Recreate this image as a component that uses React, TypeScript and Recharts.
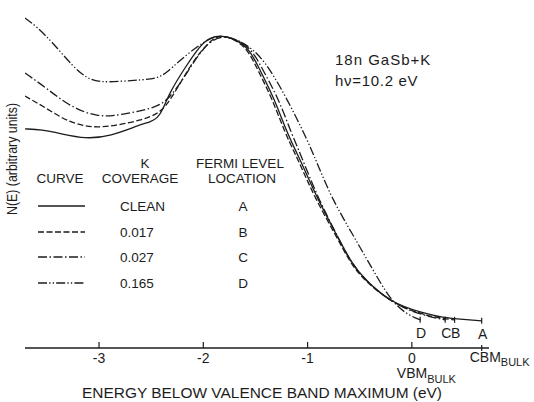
import React from 'react';
import { LineChart, Line, XAxis, YAxis, Customized } from 'recharts';

// Energy below the valence band maximum (eV) and N(E) (arbitrary units) for each curve
const cleanE = [-3.71, -3.55, -3.37, -3.13, -2.89, -2.61, -2.5, -2.44, -2.39, -2.32, -2.19, -2.03, -1.94, -1.82, -1.68, -1.55, -1.45, -1.32, -1.2, -1.1, -1.04, -0.9, -0.71, -0.58, -0.45, -0.19, 0.08, 0.3, 0.5, 0.67];
const cleanN = [65.4, 65.2, 64.0, 62.4, 63.2, 66.6, 67.6, 68.6, 71.0, 76.4, 83.0, 90.4, 92.6, 93.4, 92.0, 89.0, 82.5, 74.5, 64.5, 58.0, 54.0, 44.2, 33.1, 25.4, 20.3, 13.4, 10.7, 9.0, 8.5, 8.1];

const k017E = [-3.71, -3.5, -3.3, -3.07, -2.85, -2.6, -2.44, -2.35, -2.24, -2.12, -2.0, -1.9, -1.82, -1.69, -1.57, -1.47, -1.34, -1.22, -1.12, -1.06, -0.92, -0.72, -0.59, -0.46, -0.19, 0.08, 0.25, 0.41];
const k017N = [75.2, 71.5, 67.5, 65.7, 66.3, 68.0, 69.8, 72.5, 78.0, 84.5, 89.5, 92.5, 93.4, 92.0, 89.0, 82.5, 74.5, 64.5, 58.0, 54.0, 44.2, 33.1, 25.4, 20.3, 13.4, 10.2, 9.0, 8.4];

const k027E = [-3.71, -3.5, -3.3, -3.02, -2.75, -2.44, -2.32, -2.2, -2.08, -1.96, -1.82, -1.67, -1.53, -1.42, -1.28, -1.16, -1.07, -1.02, -0.89, -0.71, -0.58, -0.45, -0.19, 0.08, 0.32];
const k027N = [82.1, 77.5, 72.5, 68.7, 69.8, 71.8, 74.8, 80.0, 86.0, 91.0, 93.4, 92.1, 89.0, 82.5, 74.5, 64.5, 58.0, 54.0, 44.2, 33.1, 25.4, 20.3, 13.4, 9.9, 8.4];

const k165E = [-3.71, -3.6, -3.44, -3.25, -3.12, -3.0, -2.8, -2.6, -2.44, -2.35, -2.22, -2.05, -1.92, -1.82, -1.6, -1.41, -1.19, -1.0, -0.9, -0.76, -0.57, -0.4, -0.19, -0.02, 0.08];
const k165N = [98.5, 96.0, 91.0, 84.0, 80.6, 79.3, 79.6, 80.0, 80.5, 82.2, 86.0, 90.2, 92.7, 93.4, 91.2, 86.0, 74.0, 62.0, 54.5, 44.2, 34.0, 24.8, 13.4, 9.6, 8.4];

// Legend table
const curveLetters = ['A', 'B', 'C', 'D'];
const coverageLabels = ['CLEAN', '0.017', '0.027', '0.165'];
const fermiLabels = ['A', 'B', 'C', 'D'];

// Energy axis
const xTicks = [-3, -2, -1, 0, 0.67];
const xTickLabels = ['-3', '-2', '-1', '0', 'CBM'];

const zip = (e: number[], n: number[]) => e.map((v, i) => ({ e: v, n: n[i] }));
const seriesData = [zip(cleanE, cleanN), zip(k017E, k017N), zip(k027E, k027N), zip(k165E, k165N)];
const dashPatterns = ['', '6 2.5', '9 2.5 1.5 2.5', '9 2.2 1.3 2.2 1.3 2.2'];

const INK = '#1c1c1c';
const FONT = '"Liberation Sans", Arial, sans-serif';

const EnergyTick = (props: any) => {
  const { x, y, payload } = props;
  const idx = xTicks.indexOf(payload.value);
  const label = xTickLabels[idx];
  if (label === 'CBM') {
    return (
      <g>
        <line x1={x} x2={x} y1={y - 3} y2={y + 3} stroke={INK} strokeWidth={1.2} />
        <text x={x - 12} y={y + 14} fontSize={14} fontFamily={FONT} fill={INK}>
          CBM
          <tspan fontSize={11} dy={4}>BULK</tspan>
        </text>
      </g>
    );
  }
  return (
    <g>
      <line x1={x} x2={x} y1={y} y2={y - 6} stroke={INK} strokeWidth={1.2} />
      <text x={x} y={y + 15} textAnchor="middle" fontSize={14} fontFamily={FONT} fill={INK}>
        {label}
      </text>
      {label === '0' && (
        <text x={x - 15} y={y + 30} fontSize={14} fontFamily={FONT} fill={INK}>
          VBM
          <tspan fontSize={11} dy={5}>BULK</tspan>
        </text>
      )}
    </g>
  );
};

const endMarker = (letter: string, lastIndex: number) => (props: any) => {
  const { cx, cy, index } = props;
  if (index !== lastIndex) return <g key={`m-${letter}-${index}`} />;
  return (
    <g key={`m-${letter}-${index}`}>
      <line x1={cx} x2={cx} y1={cy - 3} y2={cy + 3} stroke={INK} strokeWidth={1.2} />
      <text x={cx + 1} y={cy + 18} textAnchor="middle" fontSize={14} fontFamily={FONT} fill={INK}>
        {letter}
      </text>
    </g>
  );
};

const Annotations = () => {
  const rowY = [206, 232, 257, 283];
  const t = { fontSize: 13.5, fontFamily: FONT, fill: INK } as const;
  return (
    <g>
      <text x={335} y={65} fontSize={15} fontFamily={FONT} fill={INK} letterSpacing={1}>18n GaSb+K</text>
      <text x={335} y={86} fontSize={15} fontFamily={FONT} fill={INK} letterSpacing={0.7}>hν=10.2 eV</text>

      <text x={60} y={183} textAnchor="middle" {...t}>CURVE</text>
      <text x={145} y={168} textAnchor="middle" {...t}>K</text>
      <text x={140} y={183} textAnchor="middle" {...t}>COVERAGE</text>
      <text x={240} y={168} textAnchor="middle" {...t}>FERMI LEVEL</text>
      <text x={242} y={183} textAnchor="middle" {...t}>LOCATION</text>

      {curveLetters.map((c, i) => (
        <g key={c}>
          <line x1={38} x2={85} y1={rowY[i]} y2={rowY[i]} stroke={INK} strokeWidth={1.3} strokeDasharray={dashPatterns[i] || undefined} />
          <text x={120} y={rowY[i] + 5} {...t}>{coverageLabels[i]}</text>
          <text x={243} y={rowY[i] + 5} textAnchor="middle" {...t}>{fermiLabels[i]}</text>
        </g>
      ))}

      <text x={262} y={398} textAnchor="middle" fontSize={15} fontFamily={FONT} fill={INK} textLength={360} lengthAdjust="spacingAndGlyphs">
        ENERGY BELOW VALENCE BAND MAXIMUM (eV)
      </text>
      <text
        x={0}
        y={0}
        transform="translate(17,159) rotate(-90)"
        textAnchor="middle"
        fontSize={14}
        fontFamily={FONT}
        fill={INK}
        textLength={112}
        lengthAdjust="spacingAndGlyphs"
      >
        N(E) (arbitrary units)
      </text>
    </g>
  );
};

export default function App() {
  return (
    <div style={{ position: 'absolute', left: 0, top: 0, background: '#fff' }}>
      <LineChart width={534} height={402} margin={{ top: 13, right: 45, bottom: 24, left: 25 }}>
        <XAxis
          dataKey="e"
          type="number"
          domain={[-3.71, 0.74]}
          allowDataOverflow
          ticks={xTicks}
          interval={0}
          tickLine={false}
          tickSize={0}
          tickMargin={0}
          height={30}
          tick={<EnergyTick />}
          axisLine={{ stroke: INK, strokeWidth: 1.3 }}
        />
        <XAxis xAxisId="top" orientation="top" type="number" domain={[-3.71, 0.74]} allowDataOverflow height={0} tick={false} tickLine={false} axisLine={{ stroke: INK, strokeWidth: 1.2 }} />
        <YAxis type="number" domain={[0, 100]} allowDataOverflow width={0} tick={false} tickLine={false} axisLine={{ stroke: INK, strokeWidth: 1.3 }} />
        <YAxis yAxisId="right" orientation="right" type="number" domain={[0, 100]} width={0} tick={false} tickLine={false} axisLine={{ stroke: INK, strokeWidth: 1.3 }} />
        {seriesData.map((d, i) => (
          <Line
            key={curveLetters[i]}
            data={d}
            dataKey="n"
            type="basis"
            stroke={INK}
            strokeWidth={1.3}
            strokeDasharray={dashPatterns[i] || undefined}
            dot={endMarker(fermiLabels[i], d.length - 1)}
            activeDot={false}
            isAnimationActive={false}
          />
        ))}
        <Customized component={Annotations} />
      </LineChart>
    </div>
  );
}
